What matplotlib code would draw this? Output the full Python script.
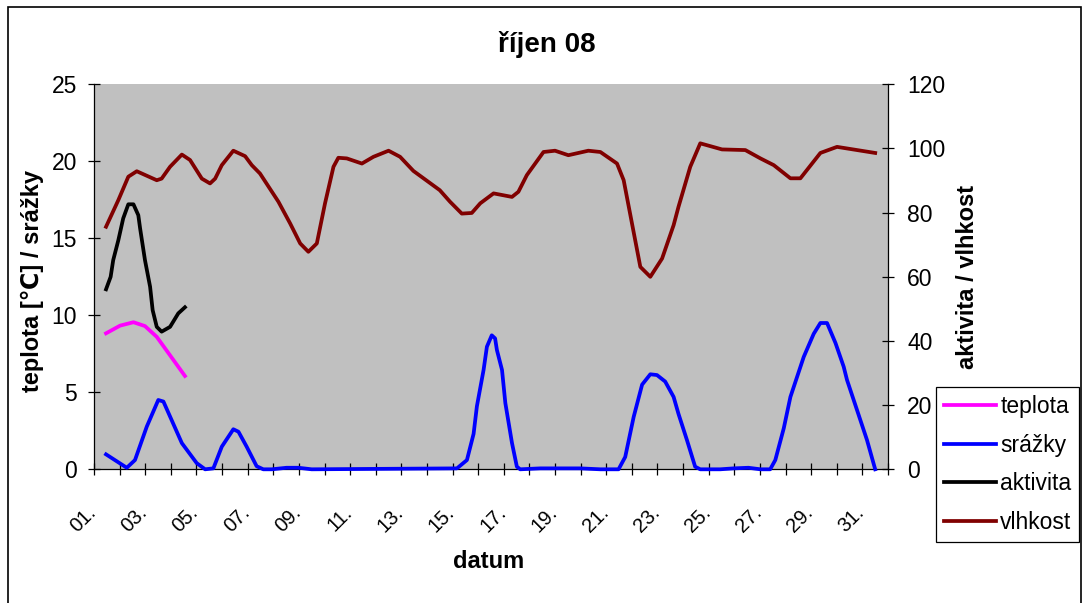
import matplotlib
matplotlib.use('Agg')
import matplotlib.pyplot as plt
import matplotlib.transforms as mtransforms
from matplotlib.patches import Rectangle

plt.rcParams['font.family'] = ['Liberation Sans', 'DejaVu Sans']

# values (x = day of month, fractional)
teplota_x = [0.97, 1.52, 2.04, 2.49, 2.95, 3.47, 4.05]
teplota_y = [8.83, 9.33, 9.55, 9.3, 8.6, 7.4, 6.06]

srazky_x = [0.97, 1.78, 2.1, 2.56, 3.01, 3.21, 3.53, 3.93, 4.51, 4.84, 5.16, 5.49,
            5.94, 6.14, 6.46, 6.85, 7.11, 7.44, 8.02, 8.48, 9.0, 14.67, 15.06,
            15.32, 15.45, 15.71, 15.84, 16.03, 16.16, 16.23, 16.43, 16.56, 16.82,
            17.01, 17.14, 17.92, 19.48, 20.27, 20.98, 21.24, 21.57, 21.9, 22.22,
            22.48, 22.8, 23.13, 23.32, 23.65, 23.97, 24.17, 24.95, 25.47, 26.05,
            26.52, 26.9, 27.1, 27.43, 27.69, 28.21, 28.6, 28.86, 29.12, 29.45,
            29.77, 29.9, 30.29, 30.68, 31.0]
srazky_y = [0.97, 0.1, 0.6, 2.77, 4.5, 4.4, 3.2, 1.7, 0.4, 0.0, 0.06, 1.47,
            2.6, 2.44, 1.47, 0.2, 0.0, 0.0, 0.1, 0.1, 0.0, 0.06, 0.6,
            2.3, 4.1, 6.45, 7.96, 8.7, 8.5, 7.75, 6.45, 4.3, 1.7,
            0.17, 0.0, 0.06, 0.06, 0.0, 0.0, 0.8, 3.4, 5.5, 6.17,
            6.12, 5.7, 4.7, 3.6, 1.9, 0.17, 0.0, 0.0, 0.06, 0.1,
            0.0, 0.0, 0.6, 2.66, 4.7, 7.3, 8.8, 9.5, 9.5, 8.2,
            6.66, 5.8, 3.85, 1.9, 0.0]

aktivita_x = [0.97, 1.15, 1.25, 1.45, 1.64, 1.84, 2.04, 2.23, 2.3, 2.49, 2.69,
              2.79, 2.95, 3.14, 3.47, 3.79, 4.05]
aktivita_y = [56.1, 60.0, 65.2, 71.4, 78.2, 82.6, 82.6, 79.2, 75.1, 65.2, 56.9,
              49.6, 44.4, 42.9, 44.4, 48.6, 50.5]

vlhkost_x = [0.97, 1.45, 1.84, 2.17, 2.95, 3.14, 3.47, 3.93, 4.25, 4.71, 5.03,
             5.23, 5.49, 5.94, 6.4, 6.66, 6.98, 7.7, 8.16, 8.55, 8.87, 9.2,
             9.52, 9.85, 10.04, 10.37, 10.96, 11.41, 12.0, 12.45, 12.97, 14.0,
             14.4, 14.86, 15.25, 15.58, 16.1, 16.82, 17.07, 17.4, 18.05, 18.5,
             19.02, 19.8, 20.27, 20.92, 21.18, 21.83, 22.22, 22.68, 23.13, 23.32,
             23.78, 24.17, 25.02, 25.93, 26.52, 27.04, 27.69, 28.08, 28.86, 29.51,
             31.0]
vlhkost_y = [75.6, 83.9, 91.2, 92.9, 90.1, 90.6, 94.3, 98.1, 96.4, 90.6, 89.1,
             90.6, 94.8, 99.3, 97.6, 94.8, 92.2, 83.4, 76.6, 70.4, 67.8, 70.4,
             82.9, 94.3, 97.1, 96.9, 95.3, 97.4, 99.3, 97.4, 93.0, 87.0,
             83.4, 79.7, 79.9, 82.9, 86.0, 84.9, 86.5, 91.7, 98.9, 99.3,
             97.9, 99.3, 98.9, 95.3, 90.1, 63.1, 60.0, 65.7, 76.1, 81.8,
             94.3, 101.6, 99.7, 99.5, 96.9, 94.8, 90.7, 90.7, 98.6, 100.5,
             98.6]

label_days = list(range(1, 32, 2))
day_labels = ['%02d.' % d for d in label_days]

W, H = 1083, 603
fig = plt.figure(figsize=(W / 100, H / 100), dpi=100)
ax = fig.add_axes([94 / W, 1 - 469.3 / H, (888 - 94) / W, (469.3 - 84.3) / H])
ax.set_facecolor('#C0C0C0')
ax2 = ax.twinx()

lw = 2.7
l1, = ax.plot(teplota_x, teplota_y, color='#FF00FF', lw=lw, label='teplota', zorder=3)
l2, = ax.plot(srazky_x, srazky_y, color='#0000FF', lw=lw, label='srážky', zorder=3, clip_on=False)
l3, = ax2.plot(aktivita_x, aktivita_y, color='black', lw=lw, label='aktivita', zorder=3)
l4, = ax2.plot(vlhkost_x, vlhkost_y, color='#800000', lw=lw, label='vlhkost', zorder=3)

ax.set_xlim(0.5, 31.5)
ax.set_ylim(0, 25)
ax2.set_ylim(0, 120)
ax.set_yticks(range(0, 26, 5))
ax2.set_yticks(range(0, 121, 20))

# tick marks between days, labels on odd days
ax.set_xticks([k + 0.5 for k in range(0, 32)])
ax.set_xticklabels([])
ax.set_xticks(label_days, day_labels, minor=True)
ax.tick_params(axis='x', which='major', direction='inout', length=8.6, width=0.9)
ax.tick_params(axis='x', which='minor', length=0, pad=24, labelsize=14.5)
offset = mtransforms.ScaledTranslation(-7 / 100, 0, fig.dpi_scale_trans)
for t in ax.get_xticklabels(minor=True):
    t.set_rotation(45)
    t.set_ha('right')
    t.set_va('top')
    t.set_transform(t.get_transform() + offset)

ax.tick_params(axis='y', direction='inout', length=8.6, width=0.9, pad=8, labelsize=16.5)
ax2.tick_params(axis='y', direction='inout', length=8.6, width=0.9, pad=9.5, labelsize=16.5)

for s in ['top', 'right']:
    ax.spines[s].set_visible(False)
for s in ['top', 'left', 'bottom']:
    ax2.spines[s].set_visible(False)
ax.spines['left'].set_linewidth(0.9)
ax.spines['bottom'].set_linewidth(0.9)
ax2.spines['right'].set_linewidth(0.9)

fig.text(547 / W, 1 - 45 / H, 'říjen 08', fontsize=20, fontweight='bold', ha='center', va='center')
fig.text(489 / W, 1 - 562 / H, 'datum', fontsize=17, fontweight='bold', ha='center', va='center')
fig.text(32 / W, 1 - 281 / H, 'teplota [℃] / srážky', fontsize=17, fontweight='bold',
         rotation=90, ha='center', va='center')
fig.text(968 / W, 1 - 277 / H, 'aktivita / vlhkost', fontsize=17, fontweight='bold',
         rotation=90, ha='center', va='center')

leg = fig.legend([l1, l2, l3, l4], ['teplota', 'srážky', 'aktivita', 'vlhkost'],
                 loc='upper left', bbox_to_anchor=(936 / W, 1 - 387 / H),
                 borderaxespad=0, fontsize=16.5, frameon=True, fancybox=False,
                 edgecolor='black', framealpha=1, handlelength=2.25,
                 handletextpad=0.2, labelspacing=0.68, borderpad=0.35)
leg.get_frame().set_linewidth(0.9)

fig.patches.append(Rectangle((8 / W, -0.01), (1081 - 8) / W, (H - 7) / H + 0.01,
                             transform=fig.transFigure, fill=False, edgecolor='black',
                             lw=1.2, clip_on=False))

fig.savefig('out.png', dpi=100)
